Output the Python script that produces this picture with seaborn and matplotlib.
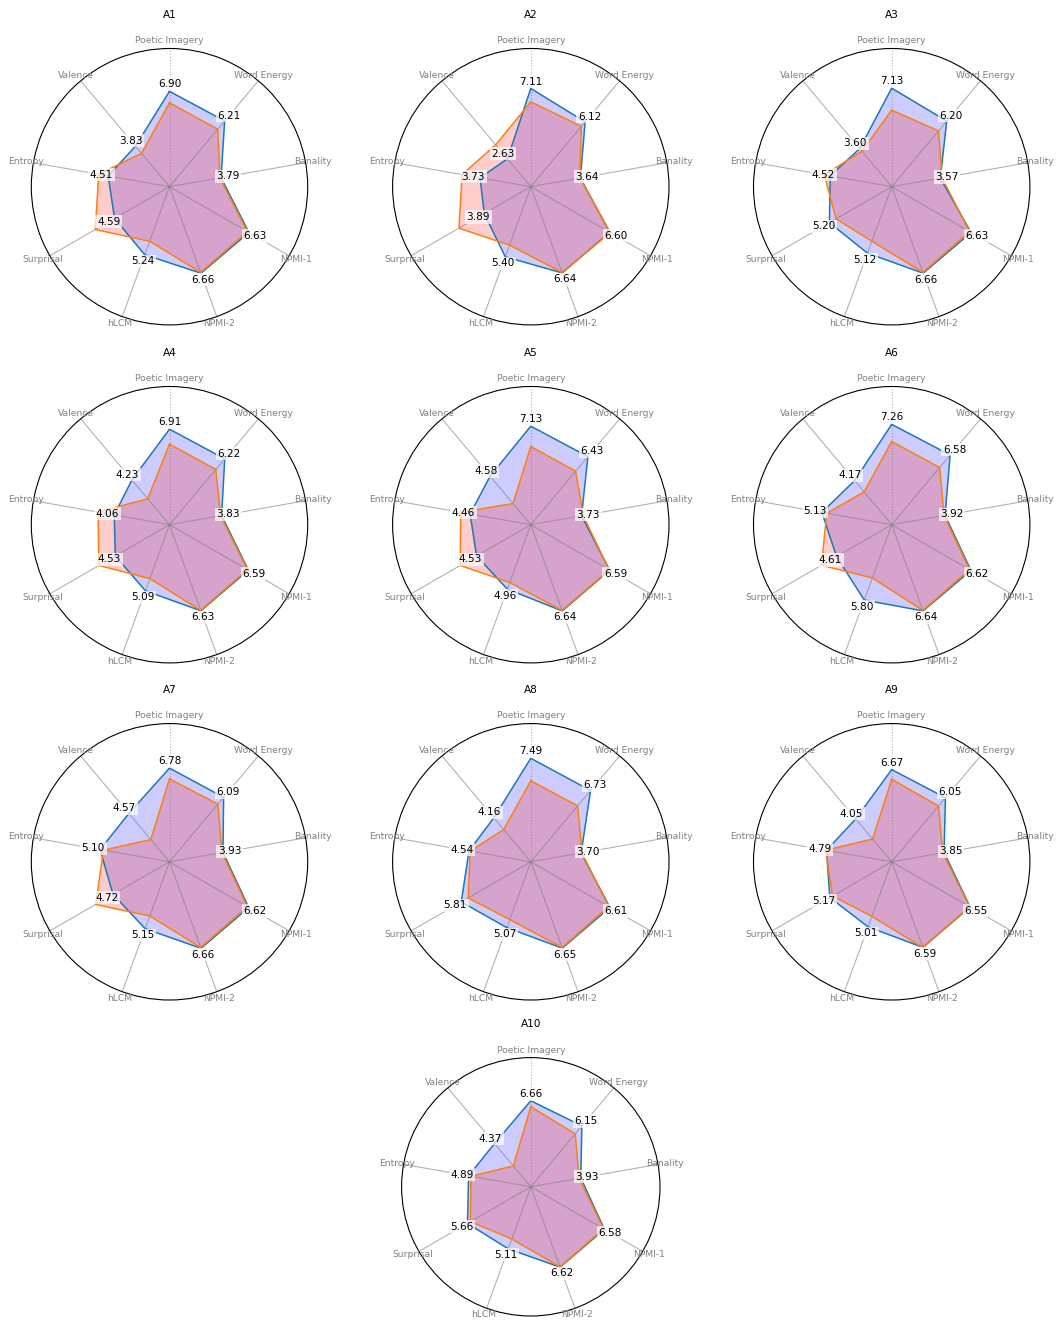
import numpy as np
import seaborn as sns
import matplotlib
matplotlib.use('Agg')
import matplotlib.pyplot as plt

categories = ['Poetic Imagery', 'Word Energy', 'Banality', 'NPMI-1', 'NPMI-2',
              'hLCM', 'Surprisal', 'Entropy', 'Valence']
panels = ['A1', 'A2', 'A3', 'A4', 'A5', 'A6', 'A7', 'A8', 'A9', 'A10']

# blue series (labelled values)
scores_blue = [
    [6.90, 6.21, 3.79, 6.63, 6.66, 5.24, 4.59, 4.51, 3.83],
    [7.11, 6.12, 3.64, 6.60, 6.64, 5.40, 3.89, 3.73, 2.63],
    [7.13, 6.20, 3.57, 6.63, 6.66, 5.12, 5.20, 4.52, 3.60],
    [6.91, 6.22, 3.83, 6.59, 6.63, 5.09, 4.53, 4.06, 4.23],
    [7.13, 6.43, 3.73, 6.59, 6.64, 4.96, 4.53, 4.46, 4.58],
    [7.26, 6.58, 3.92, 6.62, 6.64, 5.80, 4.61, 5.13, 4.17],
    [6.78, 6.09, 3.93, 6.62, 6.66, 5.15, 4.72, 5.10, 4.57],
    [7.49, 6.73, 3.70, 6.61, 6.65, 5.07, 5.81, 4.54, 4.16],
    [6.67, 6.05, 3.85, 6.55, 6.59, 5.01, 5.17, 4.79, 4.05],
    [6.66, 6.15, 3.93, 6.58, 6.62, 5.11, 5.66, 4.89, 4.37],
]

# orange series
scores_orange = [
    [6.07, 5.43, 3.70, 6.50, 6.60, 4.20, 6.20, 5.20, 3.15],
    [6.14, 5.70, 3.60, 6.65, 6.60, 4.50, 6.00, 5.05, 3.95],
    [5.54, 5.27, 3.70, 6.50, 6.60, 4.20, 4.65, 4.95, 3.35],
    [5.83, 5.22, 3.75, 6.50, 6.60, 4.15, 5.90, 5.25, 2.45],
    [5.66, 5.05, 3.85, 6.55, 6.60, 4.45, 5.90, 5.15, 2.00],
    [6.02, 5.40, 3.85, 6.50, 6.60, 4.10, 5.87, 4.77, 3.10],
    [6.00, 5.45, 3.85, 6.50, 6.60, 4.17, 6.17, 4.85, 2.10],
    [5.86, 5.28, 3.75, 6.50, 6.60, 4.45, 5.23, 4.45, 3.05],
    [5.97, 5.27, 3.75, 6.50, 6.60, 4.20, 4.95, 4.85, 2.15],
    [6.20, 5.35, 3.80, 6.50, 6.60, 4.30, 5.40, 4.70, 2.10],
]

W, H = 1060, 1324
fig = plt.figure(figsize=(W / 100, H / 100), dpi=100)

# panel centres / radii in pixels
col_x = [169.5, 530.8, 891.7]
row_y = [186.7, 524.7, 861.8]
slots = [(col_x[i % 3], row_y[i // 3], 138.2) for i in range(9)]
slots.append((530.8, 1186.8, 129.2))

pal = sns.color_palette('tab10')
angles = np.linspace(0, 2 * np.pi, len(categories), endpoint=False)
closed = np.append(angles, angles[0])
rmax = 10

for name, blue, orange, (cx, cy, r) in zip(panels, scores_blue, scores_orange, slots):
    ax = fig.add_axes([(cx - r) / W, 1 - (cy + r) / H, 2 * r / W, 2 * r / H],
                      projection='polar')
    ax.set_theta_offset(np.pi / 2)
    ax.set_theta_direction(-1)

    b = np.append(blue, blue[0])
    o = np.append(orange, orange[0])
    ax.fill(closed, b, color='blue', alpha=0.2, linewidth=0)
    ax.plot(closed, b, color=pal[0], linewidth=1.1)
    ax.fill(closed, o, color='red', alpha=0.2, linewidth=0)
    ax.plot(closed, o, color=pal[1], linewidth=1.1)

    ax.set_ylim(0, rmax)
    ax.set_yticks([])
    ax.set_xticks(angles)
    ax.set_xticklabels([])
    ax.xaxis.grid(True, color='gray', alpha=0.6, linewidth=0.8)
    ax.xaxis.get_major_ticks()[0].gridline.set_linestyle(':')
    ax.spines['polar'].set_color('black')
    ax.spines['polar'].set_linewidth(0.8)

    # category names, centred just outside the circle
    for a, c in zip(angles, categories):
        ax.text(a, rmax * 1.055, c, ha='center', va='center',
                fontsize=6.6, color='gray')

    for a, v in zip(angles, blue):
        ax.text(a, v + 0.5, f'{v:.2f}', ha='center', va='center', fontsize=7.6,
                bbox=dict(facecolor='white', alpha=0.7, edgecolor='none',
                          boxstyle='square,pad=0.15'))
    ax.set_title(name, fontsize=7.6, y=1.0, pad=22)

fig.savefig('out.png', dpi=100)
